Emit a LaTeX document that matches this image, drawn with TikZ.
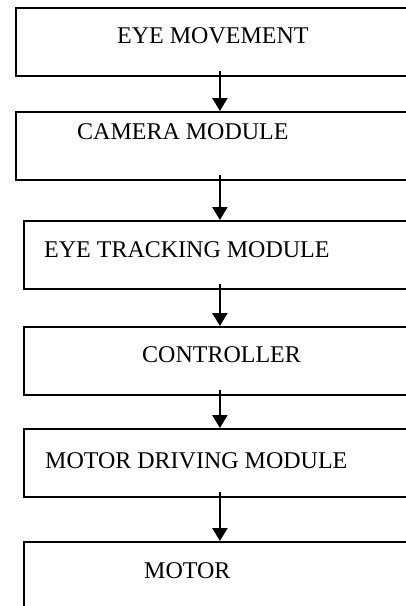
\documentclass[tikz,border=0pt]{standalone}
\usepackage{fontspec}
\setmainfont{Liberation Serif}
\usetikzlibrary{arrows.meta}
\begin{document}
\begin{tikzpicture}[x=1pt, y=-1pt,
    stage/.style={draw=black, line width=1.8pt, anchor=north west,
                  minimum height=68pt, inner sep=0pt},
    wide/.style={stage, minimum width=408pt},
    narrow/.style={stage, minimum width=392pt},
    caption/.style={anchor=base west, inner sep=0pt,
                    font=\fontsize{24}{28}\selectfont},
    flow/.style={-{Triangle[width=15pt, length=13pt]}, line width=2.3pt}]
    \useasboundingbox (0, 0) rectangle (406, 606);
    \clip (0, 0) rectangle (406, 606);

    \draw (15, 7) node [wide] (eye) {};
    \draw (117, 43) node [caption] (eyetxt) {EYE MOVEMENT};

    \draw (15, 111) node [wide] (cam) {};
    \draw (77, 139) node [caption] (camtxt) {CAMERA MODULE};

    \draw (23, 220) node [narrow] (track) {};
    \draw (44, 257) node [caption] (tracktxt) {EYE TRACKING MODULE};

    \draw (23, 326) node [narrow] (ctrl) {};
    \draw (142, 362) node [caption] (ctrltxt) {CONTROLLER};

    \draw (23, 428) node [narrow] (drive) {};
    \draw (45, 468) node [caption] (drivetxt) {MOTOR DRIVING MODULE};

    \draw (23, 541) node [narrow] (motor) {};
    \draw (144, 578) node [caption] (motortxt) {MOTOR};

    \draw [flow] ([yshift=6pt]eye.south) -- (cam.north);
    \draw [flow] ([yshift=6pt]cam.south) -- (track.north);
    \draw [flow] ([yshift=6pt]track.south) -- (ctrl.north);
    \draw [flow] ([yshift=6pt]ctrl.south) -- (drive.north);
    \draw [flow] ([yshift=6pt]drive.south) -- (motor.north);
\end{tikzpicture}
\end{document}
